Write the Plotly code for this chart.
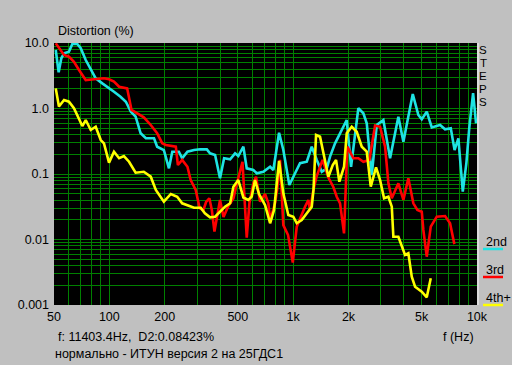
import plotly.graph_objects as go

# ---- data ----
f_2nd = [51.1, 53.0, 54.8, 56.7, 60.3, 62.9, 66.9, 69.9, 74.4, 79.2, 84.3, 91.6, 97.5, 106, 115, 123,
         131, 139, 148, 158, 175, 182, 198, 211, 220, 239, 249, 266, 289, 311, 339, 353, 376, 400,
         421, 454, 483, 503, 536, 559, 607, 634, 688, 749, 780, 838, 884, 953, 1024, 1090, 1186,
         1262, 1344, 1431, 1523, 1587, 1690, 1799, 1956, 2065, 2262, 2409, 2513, 2676, 2849, 3095,
         3366, 3735, 3977, 4473, 4797, 5006, 5330, 5674, 6297, 6703, 7199, 7551, 7919, 8368, 8754,
         9087, 9522, 9886]
d_2nd = [7.82, 3.57, 5.84, 6.96, 7.36, 9.66, 9.66, 8.30, 5.50, 3.87, 2.89, 2.42, 2.15, 1.80, 1.51, 1.27,
         0.894, 0.750, 0.418, 0.351, 0.351, 0.261, 0.232, 0.122, 0.219, 0.219, 0.174, 0.219, 0.232,
         0.238, 0.238, 0.207, 0.195, 0.086, 0.174, 0.168, 0.207, 0.188, 0.261, 0.122, 0.115, 0.1025,
         0.108, 0.129, 0.115, 0.427, 0.232, 0.068, 0.1025, 0.146, 0.154, 0.261, 0.164, 0.108, 0.122,
         0.184, 0.294, 0.408, 0.667, 0.129, 1.01, 0.845, 0.594, 0.0965, 0.560, 0.667, 0.174, 0.750,
         0.311, 1.66, 0.796, 0.684, 0.894, 0.513, 0.560, 0.481, 0.498, 0.232, 0.351, 0.0537, 0.147,
         0.522, 1.71, 0.594]

f_3rd = [51.1, 53.2, 56.7, 60.3, 64.2, 68.4, 74.4, 82.5, 93.5, 99.6, 106, 113, 125, 132, 142, 154, 168,
         182, 194, 203, 230, 236, 249, 266, 277, 295, 310, 325, 336, 350, 361, 373, 400, 418, 444, 473,
         497, 530, 559, 578, 607, 628, 660, 703, 733, 749, 797, 820, 848, 884, 938, 995, 1046, 1090,
         1160, 1209, 1235, 1288, 1344, 1445, 1554, 1654, 1726, 1799, 1891, 1971, 2125, 2262, 2409,
         2597, 2789, 2970, 3162, 3296, 3439, 3735, 3977, 4232, 4506, 4738, 5006, 5107, 5330, 5603,
         6041, 6703, 7136, 7531]
d_3rd = [9.9, 8.30, 6.56, 6.18, 5.18, 3.87, 2.72, 2.79, 2.89, 2.79, 2.57, 2.15, 2.03, 0.949, 0.845, 0.734,
         0.560, 0.418, 0.294, 0.277, 0.261, 0.137, 0.164, 0.129, 0.081, 0.057, 0.030, 0.0282, 0.0374,
         0.0426, 0.0282, 0.0132, 0.0401, 0.0221, 0.0325, 0.0423, 0.0763, 0.154, 0.0107, 0.0357,
         0.0721, 0.091, 0.0378, 0.0495, 0.0357, 0.0198, 0.0357, 0.0605, 0.164, 0.0166, 0.0117,
         0.00445, 0.0157, 0.0211, 0.0317, 0.0401, 0.0282, 0.057, 0.0932, 0.164, 0.0884, 0.0633, 0.045,
         0.0357, 0.0124, 0.261, 0.174, 0.174, 0.154, 0.164, 0.550, 0.527, 0.261, 0.0721, 0.0426,
         0.0721, 0.0401, 0.086, 0.0357, 0.0282, 0.0266, 0.0140, 0.00546, 0.0157, 0.0223, 0.0228,
         0.0177, 0.0085]

f_4th = [51.1, 53.2, 56.7, 60.3, 64.2, 68.4, 71.3, 74.4, 79.2, 84.3, 89.8, 93.5, 99.6, 106, 113, 120, 128,
         139, 154, 168, 179, 198, 216, 234, 249, 289, 314, 331, 353, 376, 400, 426, 454, 473, 503,
         536, 570, 595, 620, 652, 703, 749, 787, 838, 884, 941, 1002, 1046, 1113, 1186, 1262, 1290,
         1332, 1400, 1472, 1554, 1642, 1711, 1783, 1891, 1956, 2083, 2217, 2361, 2513, 2643, 2824,
         2970, 3122, 3296, 3439, 3508, 3735, 3896, 4062, 4232, 4417, 4604, 5006, 5330, 5603]
d_4th = [2.03, 1.07, 1.35, 1.27, 1.01, 0.709, 0.540, 0.667, 0.470, 0.527, 0.330, 0.294, 0.149, 0.219,
         0.174, 0.188, 0.154, 0.1047, 0.108, 0.091, 0.057, 0.0378, 0.0495, 0.045, 0.0357, 0.0306,
         0.0306, 0.0251, 0.0218, 0.0223, 0.0266, 0.0317, 0.0357, 0.064, 0.081, 0.0438, 0.0401, 0.045,
         0.081, 0.0495, 0.0336, 0.0177, 0.0282, 0.158, 0.0507, 0.0237, 0.0223, 0.0177, 0.0198,
         0.0251, 0.0317, 0.057, 0.394, 0.371, 0.184, 0.091, 0.137, 0.164, 0.0763, 0.129, 0.418,
         0.527, 0.442, 0.261, 0.219, 0.064, 0.1265, 0.081, 0.0426, 0.045, 0.0317, 0.0110, 0.0110,
         0.00777, 0.0058, 0.00616, 0.0027, 0.0019, 0.0016, 0.00131, 0.00256]

x_grid = [50, 60, 70, 80, 90] + [m * 10 ** e for e in (2, 3) for m in range(1, 10)] + [10000]
x_labels = {50: "50", 100: "100", 200: "200", 500: "500", 1000: "1k", 2000: "2k", 5000: "5k", 10000: "10k"}
y_grid = [round(m * 10 ** e, 6) for e in (-3, -2, -1, 0) for m in range(1, 10)] + [10]
y_labels = {0.001: "0.001", 0.01: "0.01", 0.1: "0.1", 1: "1.0", 10: "10.0"}

series_names = ["2nd", "3rd", "4th+"]
series_colors = ["#1ee3e3", "#ff0000", "#ffff00"]

title_text = "Distortion (%)"
info_text = "f: 11403.4Hz,\u00a0 D2:0.08423%"
caption_text = "нормально - ИТУН версия 2 на 25ГДС1"
xaxis_title = "f (Hz)"
steps_text = "STEPS"

# ---- layout geometry (pixels) ----
W, H = 512, 365
L, R, T, B = 54, 477, 43, 305
FONT = "Liberation Sans, Arial, sans-serif"
BG = "#c0c0c0"


def px(x):
    return (x - L) / (R - L)


def py(y):
    return (B - y) / (B - T)


fig = go.Figure()
for fx, dy, name, col in zip([f_2nd, f_3rd, f_4th], [d_2nd, d_3rd, d_4th], series_names, series_colors):
    fig.add_trace(go.Scatter(x=fx, y=dy, mode="lines", name=name,
                             line=dict(color=col, width=2.6), showlegend=False, hoverinfo="skip"))

fig.update_layout(
    width=W, height=H,
    margin=dict(l=L, r=W - R, t=T, b=H - B, pad=0),
    paper_bgcolor=BG, plot_bgcolor="black",
    font=dict(family=FONT, size=12, color="black"),
    xaxis=dict(type="log", range=[1.69897, 4], tickmode="array", tickvals=x_grid,
               ticktext=[x_labels.get(v, "") for v in x_grid], showgrid=True, gridcolor="#008000",
               gridwidth=1, zeroline=False, showline=False, ticks="", ticklabelstandoff=2,
               tickfont=dict(size=12.5, family=FONT)),
    yaxis=dict(type="log", range=[-3, 1], tickmode="array", tickvals=y_grid,
               ticktext=[y_labels.get(v, "") for v in y_grid], showgrid=True, gridcolor="#008000",
               gridwidth=1, zeroline=False, showline=False, ticks="", ticklabelstandoff=4,
               tickfont=dict(size=12.5, family=FONT)),
)

ann = []
ann.append(dict(text=title_text, x=px(56), y=py(31), xanchor="left", yanchor="middle"))
ann.append(dict(text=info_text, x=px(56), y=py(337), xanchor="left", yanchor="middle"))
ann.append(dict(text=caption_text, x=px(53), y=py(354), xanchor="left", yanchor="middle"))
ann.append(dict(text=xaxis_title, x=px(476), y=py(337), xanchor="right", yanchor="middle"))
steps_ann = []
for i, ch in enumerate(steps_text):
    steps_ann.append(dict(text=ch, x=px(483), y=py(50 + i * 13), xanchor="center", yanchor="middle",
                          borderpad=0))

shapes = []
leg_y = [242, 270, 298]
for name, col, ly in zip(series_names, series_colors, leg_y):
    ann.append(dict(text=name, x=px(484), y=py(ly), xanchor="left", yanchor="middle"))
    shapes.append(dict(type="line", xref="paper", yref="paper", x0=px(483), x1=px(503),
                       y0=py(ly + 7), y1=py(ly + 7), line=dict(color=col, width=2.5)))
shapes.append(dict(type="line", xref="paper", yref="paper", x0=px(478), x1=px(478),
                   y0=0, y1=1, line=dict(color="#dcdcdc", width=2)))

for a in ann:
    a.update(xref="paper", yref="paper", showarrow=False, font=dict(size=12.5, family=FONT))
for a in steps_ann:
    a.update(xref="paper", yref="paper", showarrow=False, font=dict(size=11.5, family=FONT))
fig.update_layout(annotations=ann + steps_ann, shapes=shapes)

fig.write_html("out.html", config={"displayModeBar": False},
               post_script="document.body.style.margin='0';document.body.style.overflow='hidden';")
